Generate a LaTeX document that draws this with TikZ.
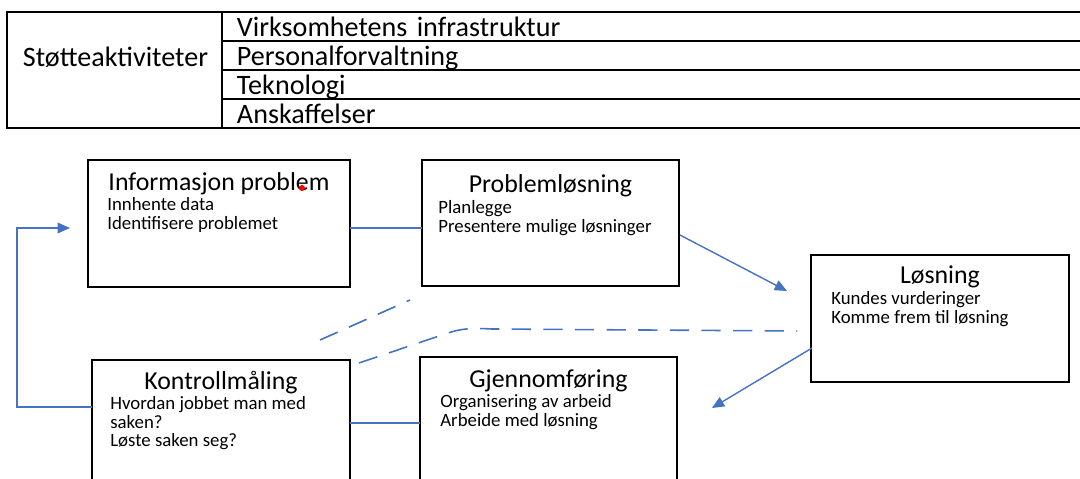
\documentclass[tikz,border=0pt]{standalone}
\usepackage{fontspec}
\setmainfont{Carlito}
\usetikzlibrary{arrows.meta,positioning}
\definecolor{flowblue}{RGB}{68,114,196}

\tikzset{
  box/.style={draw, line width=0.8pt, anchor=north west, inner sep=0pt, outer sep=0pt},
  tabrow/.style={draw, line width=0.8pt, text width=17cm, inner xsep=0.3cm, inner ysep=0pt, outer sep=0pt,
    minimum height=0.58cm, text height=13.5pt, text depth=2.5pt, align=left,
    font=\fontsize{16}{18}\selectfont},
  tabtext/.style={inner sep=0pt, font=\fontsize{16}{18}\selectfont},
  boxtitle/.style={anchor=base, inner sep=0pt, font=\fontsize{14.7}{17}\selectfont},
  boxbody/.style={anchor=north west, inner sep=0pt, align=left, font=\fontsize{10.7}{10.6}\selectfont},
  flow/.style={flowblue, line width=0.8pt},
  flowtip/.style={flow, -{Triangle[length=7pt,width=6pt]}},
  dashflow/.style={flowblue, line width=0.9pt, dash pattern=on 11pt off 7pt}
}

\begin{document}
\begin{tikzpicture}[x=0.02cm, y=-0.02cm]
\clip (0,0) rectangle (1080,479);

% support activities
\node [box, minimum width=4.3cm, minimum height=2.32cm] (stotte) at (7,12) {};
\node [tabtext] (stotteT) at ([shift={(1,-13)}]stotte.center) {Støtteaktiviteter};
\node [tabrow, anchor=north west] (infra) at (222,12) {Virksomhetens infrastruktur};
\node [tabrow, below=0pt of infra] (pers) {Personalforvaltning};
\node [tabrow, below=0pt of pers] (tekn) {Teknologi};
\node [tabrow, below=0pt of tekn] (anskaff) {Anskaffelser};

% process boxes
\node [box, minimum width=5.24cm, minimum height=2.54cm] (info) at (88,160) {};
\node [box, minimum width=5.14cm, minimum height=2.52cm] (plan) at (422,160) {};
\node [box, minimum width=5.16cm, minimum height=2.54cm] (losn) at (811,255) {};
\node [box, minimum width=5.16cm, minimum height=2.8cm] (kontroll) at (92,360) {};
\node [box, minimum width=5.14cm, minimum height=2.8cm] (gjenn) at (420,357) {};

\node [boxtitle] (infoT) at ([shift={(0,31)}]info.north) {Informasjon problem};
\node [boxbody] (infoB) at ([shift={(19,37)}]info.north west) {Innhente data\\Identifisere problemet};
\fill [red] (302,188) circle [radius=3];

\node [boxtitle] (planT) at ([shift={(0,33)}]plan.north) {Problemløsning};
\node [boxbody] (planB) at ([shift={(16,40)}]plan.north west) {Planlegge\\Presentere mulige løsninger};

\node [boxtitle] (losnT) at ([shift={(0,29)}]losn.north) {Løsning};
\node [boxbody] (losnB) at ([shift={(20,36)}]losn.north west) {Kundes vurderinger\\Komme frem til løsning};

\node [boxtitle] (kontrollT) at ([shift={(0,30)}]kontroll.north) {Kontrollmåling};
\node [boxbody] (kontrollB) at ([shift={(18,36)}]kontroll.north west) {Hvordan jobbet man med\\saken?\\Løste saken seg?};

\node [boxtitle] (gjennT) at ([shift={(0,31)}]gjenn.north) {Gjennomføring};
\node [boxbody] (gjennB) at ([shift={(20,37)}]gjenn.north west) {Organisering av arbeid\\Arbeide med løsning};

% connectors
\draw [flow] ([shift={(0,68)}]info.north east) -- ([shift={(0,68)}]plan.north west);
\draw [flowtip] ([shift={(1,75)}]plan.north east) -- ([shift={(-24,36)}]losn.north west);
\draw [flowtip] ([shift={(1,93)}]losn.north west) -- ([shift={(35,51)}]gjenn.north east);
\draw [flow] ([shift={(0,66)}]gjenn.north west) -- ([shift={(0,63)}]kontroll.north east);
\draw [flowtip] ([shift={(0,47)}]kontroll.north west) -| (17,228) -- ([shift={(-18,68)}]info.north west);

% dashed links
\coordinate (d1a) at (320,340);
\coordinate (d1b) at (410,300);
\draw [dashflow] (d1a) -- (d1b);
\draw [dashflow] ([shift={(9,3)}]kontroll.north east) -- (445,334)
  .. controls (462,328) and (472,328) .. (492,329) -- ([shift={(-14,76)}]losn.north west);
\end{tikzpicture}
\end{document}
